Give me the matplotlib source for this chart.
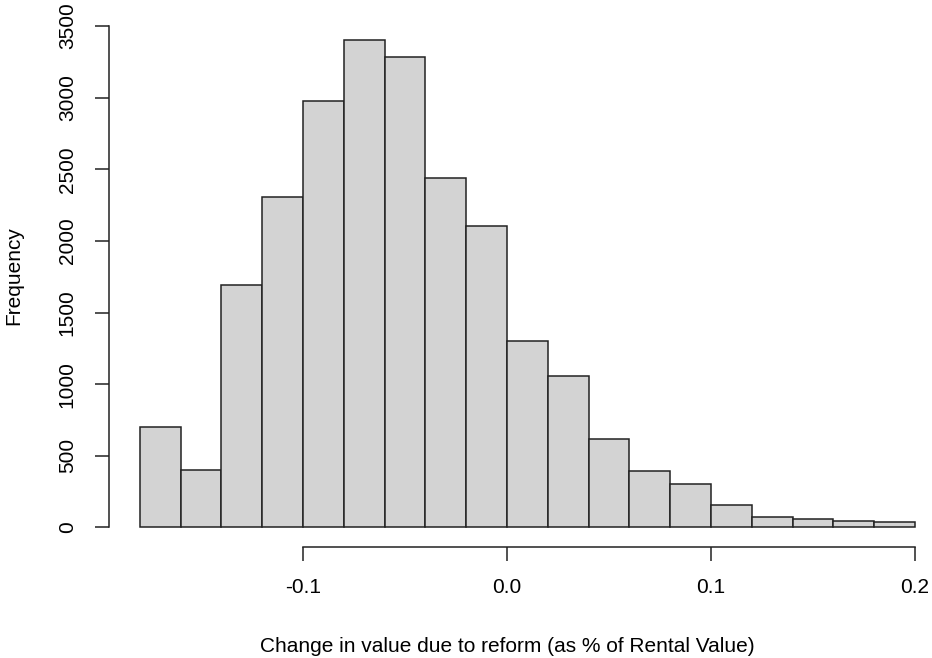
import numpy as np
import matplotlib
matplotlib.use("Agg")
import matplotlib.pyplot as plt

plt.rcParams["font.family"] = ["Liberation Sans", "DejaVu Sans"]

# histogram breaks and counts
breaks = np.round(np.arange(-0.18, 0.2001, 0.02), 2)
counts = [700, 400, 1690, 2305, 2980, 3401, 3282, 2437, 2102, 1301,
          1057, 614, 393, 300, 156, 74, 60, 44, 35]
xticks = [-0.1, 0.0, 0.1, 0.2]
xticklabels = ["-0.1", "0.0", "0.1", "0.2"]
yticks = [0, 500, 1000, 1500, 2000, 2500, 3000, 3500]

W, H = 932, 658
fig = plt.figure(figsize=(W / 100, H / 100), dpi=100)

# plot region in pixels (R style, 4% extension of data range)
x0, x1 = -0.1952, 0.2152
y0, y1 = -136, 3537
left_px, right_px = 108.8, 946.0
top_px, bot_px = 20.8, 546.8
ax = fig.add_axes([left_px / W, 1 - bot_px / H,
                   (right_px - left_px) / W, (bot_px - top_px) / H])

widths = np.diff(breaks)
ax.bar(breaks[:-1], counts, width=widths, align="edge",
       color="#d3d3d3", edgecolor="#222222", linewidth=1.1)

ax.set_xlim(x0, x1)
ax.set_ylim(y0, y1)

for s in ["top", "right"]:
    ax.spines[s].set_visible(False)
ax.spines["left"].set_bounds(0, 3500)
ax.spines["bottom"].set_bounds(-0.1, 0.2)
for s in ["left", "bottom"]:
    ax.spines[s].set_linewidth(1.1)
    ax.spines[s].set_color("#222222")

ax.set_xticks(xticks)
ax.set_xticklabels(xticklabels)
ax.set_yticks(yticks)
ax.set_yticklabels([str(v) for v in yticks], rotation=90, va="center")
ax.tick_params(axis="both", length=10, width=1.1, color="#222222",
               labelsize=15)
ax.tick_params(axis="x", pad=12.5)
ax.tick_params(axis="y", pad=13)

fig.text(507 / W, 1 - 652 / H, "Change in value due to reform (as % of Rental Value)",
         ha="center", va="baseline", fontsize=15)
fig.text(14 / W, 1 - 276 / H, "Frequency", rotation=90,
         ha="center", va="center", fontsize=15)

fig.savefig("out.png", dpi=100)
